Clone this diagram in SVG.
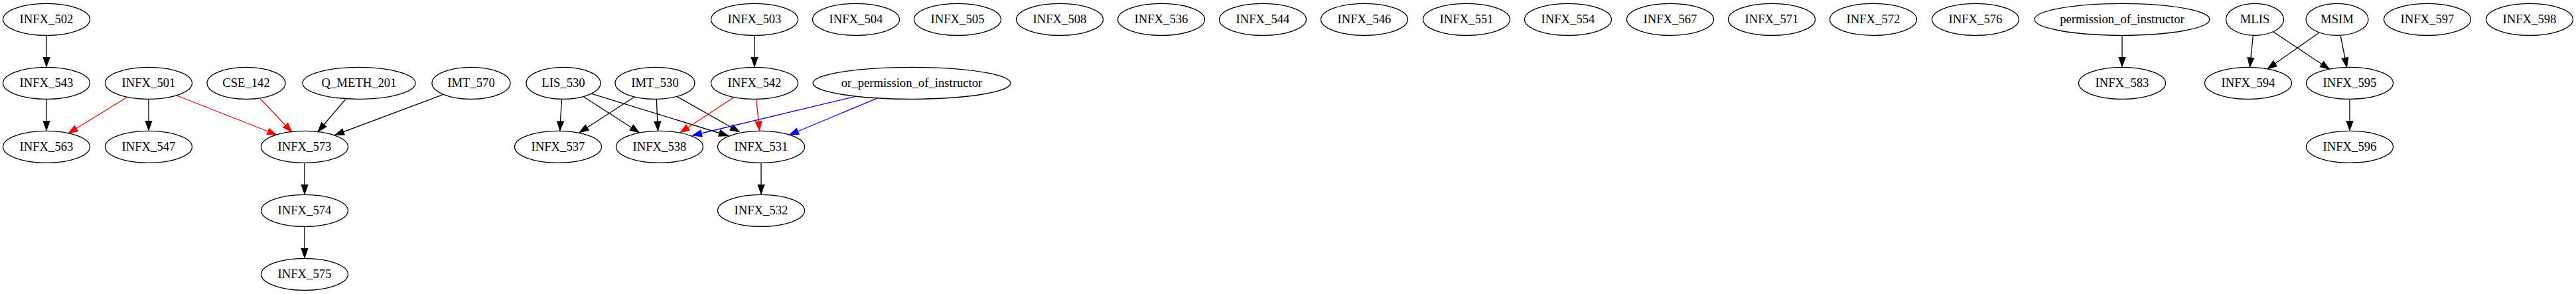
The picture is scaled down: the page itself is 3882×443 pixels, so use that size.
<svg xmlns="http://www.w3.org/2000/svg" width="3882" height="443" viewBox="0 0 3882 443">
<style>
.n ellipse{fill:none;stroke:#000;stroke-width:1.33}
.n text{font-family:"Liberation Serif","Times New Roman",serif;font-size:18.67px;text-anchor:middle;fill:#000}
.e{fill:none;stroke-width:1.33}
.k{stroke:#000;marker-end:url(#ak)}
.r{stroke:#f00;marker-end:url(#ar)}
.b{stroke:#00f;marker-end:url(#ab)}
</style>
<defs>
<marker id="ak" markerUnits="userSpaceOnUse" refX="13.3" refY="0" orient="auto" overflow="visible"><path d="M0,-4.7 L13.3,0 L0,4.7 z" fill="#000" stroke="#000" stroke-width="1.33"/></marker>
<marker id="ar" markerUnits="userSpaceOnUse" refX="13.3" refY="0" orient="auto" overflow="visible"><path d="M0,-4.7 L13.3,0 L0,4.7 z" fill="#f00" stroke="#f00" stroke-width="1.33"/></marker>
<marker id="ab" markerUnits="userSpaceOnUse" refX="13.3" refY="0" orient="auto" overflow="visible"><path d="M0,-4.7 L13.3,0 L0,4.7 z" fill="#00f" stroke="#00f" stroke-width="1.33"/></marker>
</defs>
<rect width="3882" height="443" fill="#fff"/>
<g id="edges" class="e">
<path class="k" d="M70,53.3 L70,100"/>
<path class="k" d="M70,149.3 L70,196"/>
<path class="r" d="M191,146.7 L103.5,200.5"/>
<path class="k" d="M224,149.3 L224,196"/>
<path class="r" d="M266.5,144 L416.5,203"/>
<path class="r" d="M392,148.7 L439.5,198.5"/>
<path class="k" d="M520.5,149.7 L479.5,198"/>
<path class="k" d="M667.4,142.7 L505,203.3"/>
<path class="k" d="M459,245.3 L459,292"/>
<path class="k" d="M459,341.3 L459,388"/>
<path class="k" d="M846.4,150 L843.8,196.5"/>
<path class="k" d="M878.6,145.3 L963,199.5"/>
<path class="k" d="M892,141.3 L1097,204.5"/>
<path class="k" d="M955.8,146.3 L873.5,199.5"/>
<path class="k" d="M989.3,150 L991.5,196.5"/>
<path class="k" d="M1020.5,145.7 L1114,198.5"/>
<path class="k" d="M1137,53.3 L1137,100"/>
<path class="r" d="M1105.4,147 L1025.5,199.5"/>
<path class="r" d="M1139.7,149.7 L1144.5,196.5"/>
<path class="b" d="M1289.3,145.3 L1044,204"/>
<path class="b" d="M1322.8,147.7 L1190,203"/>
<path class="k" d="M1147,245.3 L1147,292"/>
<path class="k" d="M3198,53.3 L3198,100"/>
<path class="k" d="M3395.4,53.3 L3390.6,100.5"/>
<path class="k" d="M3425.5,47.7 L3510,104"/>
<path class="k" d="M3494.9,49.3 L3417.5,103.5"/>
<path class="k" d="M3527.2,54 L3536.5,100.5"/>
<path class="k" d="M3541,149.3 L3541,196"/>
</g>
<g id="INFX_502" class="n"><ellipse cx="70" cy="29.3" rx="65.5" ry="24"/><text x="70" y="35">INFX_502</text></g>
<g id="INFX_503" class="n"><ellipse cx="1137" cy="29.3" rx="65.5" ry="24"/><text x="1137" y="35">INFX_503</text></g>
<g id="INFX_504" class="n"><ellipse cx="1290" cy="29.3" rx="65.5" ry="24"/><text x="1290" y="35">INFX_504</text></g>
<g id="INFX_505" class="n"><ellipse cx="1443" cy="29.3" rx="65.5" ry="24"/><text x="1443" y="35">INFX_505</text></g>
<g id="INFX_508" class="n"><ellipse cx="1597" cy="29.3" rx="65.5" ry="24"/><text x="1597" y="35">INFX_508</text></g>
<g id="INFX_536" class="n"><ellipse cx="1750" cy="29.3" rx="65.5" ry="24"/><text x="1750" y="35">INFX_536</text></g>
<g id="INFX_544" class="n"><ellipse cx="1903" cy="29.3" rx="65.5" ry="24"/><text x="1903" y="35">INFX_544</text></g>
<g id="INFX_546" class="n"><ellipse cx="2056" cy="29.3" rx="65.5" ry="24"/><text x="2056" y="35">INFX_546</text></g>
<g id="INFX_551" class="n"><ellipse cx="2210" cy="29.3" rx="65.5" ry="24"/><text x="2210" y="35">INFX_551</text></g>
<g id="INFX_554" class="n"><ellipse cx="2363" cy="29.3" rx="65.5" ry="24"/><text x="2363" y="35">INFX_554</text></g>
<g id="INFX_567" class="n"><ellipse cx="2517" cy="29.3" rx="65.5" ry="24"/><text x="2517" y="35">INFX_567</text></g>
<g id="INFX_571" class="n"><ellipse cx="2670" cy="29.3" rx="65.5" ry="24"/><text x="2670" y="35">INFX_571</text></g>
<g id="INFX_572" class="n"><ellipse cx="2823" cy="29.3" rx="65.5" ry="24"/><text x="2823" y="35">INFX_572</text></g>
<g id="INFX_576" class="n"><ellipse cx="2977" cy="29.3" rx="65.5" ry="24"/><text x="2977" y="35">INFX_576</text></g>
<g id="permission_of_instructor" class="n"><ellipse cx="3198" cy="29.3" rx="132" ry="24"/><text x="3198" y="35">permission_of_instructor</text></g>
<g id="MLIS" class="n"><ellipse cx="3398" cy="29.3" rx="43.5" ry="24"/><text x="3398" y="35">MLIS</text></g>
<g id="MSIM" class="n"><ellipse cx="3522" cy="29.3" rx="47" ry="24"/><text x="3522" y="35">MSIM</text></g>
<g id="INFX_597" class="n"><ellipse cx="3658" cy="29.3" rx="65.5" ry="24"/><text x="3658" y="35">INFX_597</text></g>
<g id="INFX_598" class="n"><ellipse cx="3812" cy="29.3" rx="65.5" ry="24"/><text x="3812" y="35">INFX_598</text></g>
<g id="INFX_543" class="n"><ellipse cx="70" cy="125.3" rx="65.5" ry="24"/><text x="70" y="131">INFX_543</text></g>
<g id="INFX_501" class="n"><ellipse cx="224" cy="125.3" rx="65.5" ry="24"/><text x="224" y="131">INFX_501</text></g>
<g id="CSE_142" class="n"><ellipse cx="371" cy="125.3" rx="59" ry="24"/><text x="371" y="131">CSE_142</text></g>
<g id="Q_METH_201" class="n"><ellipse cx="541" cy="125.3" rx="85" ry="24"/><text x="541" y="131">Q_METH_201</text></g>
<g id="IMT_570" class="n"><ellipse cx="710" cy="125.3" rx="59" ry="24"/><text x="710" y="131">IMT_570</text></g>
<g id="LIS_530" class="n"><ellipse cx="849" cy="125.3" rx="56" ry="24"/><text x="849" y="131">LIS_530</text></g>
<g id="IMT_530" class="n"><ellipse cx="987" cy="125.3" rx="60" ry="24"/><text x="987" y="131">IMT_530</text></g>
<g id="INFX_542" class="n"><ellipse cx="1137" cy="125.3" rx="65.5" ry="24"/><text x="1137" y="131">INFX_542</text></g>
<g id="or_permission_of_instructor" class="n"><ellipse cx="1374" cy="125.3" rx="149" ry="24"/><text x="1374" y="131">or_permission_of_instructor</text></g>
<g id="INFX_583" class="n"><ellipse cx="3198" cy="125.3" rx="65.5" ry="24"/><text x="3198" y="131">INFX_583</text></g>
<g id="INFX_594" class="n"><ellipse cx="3388" cy="125.3" rx="65.5" ry="24"/><text x="3388" y="131">INFX_594</text></g>
<g id="INFX_595" class="n"><ellipse cx="3541" cy="125.3" rx="65.5" ry="24"/><text x="3541" y="131">INFX_595</text></g>
<g id="INFX_563" class="n"><ellipse cx="70" cy="221.3" rx="65.5" ry="24"/><text x="70" y="227">INFX_563</text></g>
<g id="INFX_547" class="n"><ellipse cx="224" cy="221.3" rx="65.5" ry="24"/><text x="224" y="227">INFX_547</text></g>
<g id="INFX_573" class="n"><ellipse cx="459" cy="221.3" rx="65.5" ry="24"/><text x="459" y="227">INFX_573</text></g>
<g id="INFX_537" class="n"><ellipse cx="841" cy="221.3" rx="65.5" ry="24"/><text x="841" y="227">INFX_537</text></g>
<g id="INFX_538" class="n"><ellipse cx="994" cy="221.3" rx="65.5" ry="24"/><text x="994" y="227">INFX_538</text></g>
<g id="INFX_531" class="n"><ellipse cx="1147" cy="221.3" rx="65.5" ry="24"/><text x="1147" y="227">INFX_531</text></g>
<g id="INFX_596" class="n"><ellipse cx="3541" cy="221.3" rx="65.5" ry="24"/><text x="3541" y="227">INFX_596</text></g>
<g id="INFX_574" class="n"><ellipse cx="459" cy="317.3" rx="65.5" ry="24"/><text x="459" y="323">INFX_574</text></g>
<g id="INFX_532" class="n"><ellipse cx="1147" cy="317.3" rx="65.5" ry="24"/><text x="1147" y="323">INFX_532</text></g>
<g id="INFX_575" class="n"><ellipse cx="459" cy="413.3" rx="65.5" ry="24"/><text x="459" y="419">INFX_575</text></g>
</svg>
